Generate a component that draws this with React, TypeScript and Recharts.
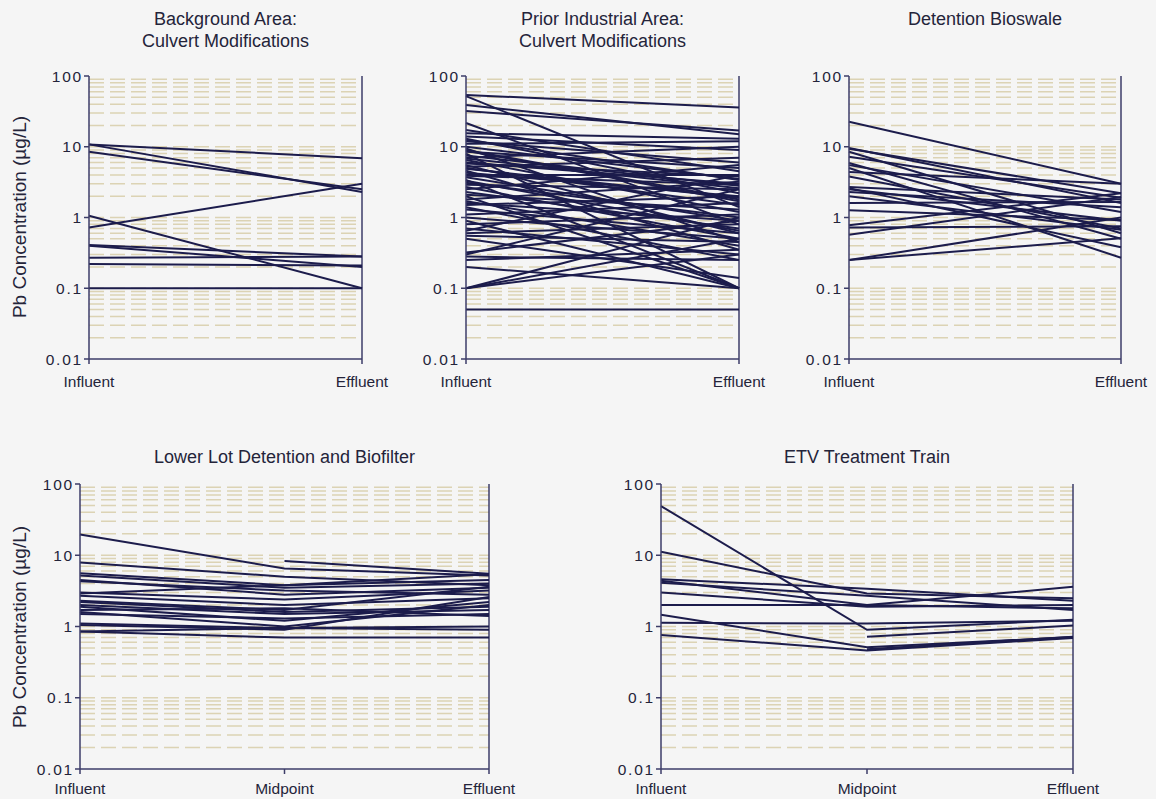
import React from 'react';
import { LineChart, Line, XAxis, YAxis, CartesianGrid, ReferenceLine } from 'recharts';

// y axis (log) ticks shared by all five panels
const yTicks = [0.01, 0.1, 1, 10, 100];

const twoStages = ['Influent', 'Effluent'];
const threeStages = ['Influent', 'Midpoint', 'Effluent'];

// Background Area: Culvert Modifications
const bgInfluent = [10.8, 10.8, 8.5, 0.72, 1.06, 0.41, 0.4, 0.27, 0.22, 0.1];
const bgEffluent = [6.9, 2.3, 2.5, 3.0, 0.1, 0.28, 0.2, 0.28, 0.21, 0.1];

// Prior Industrial Area: Culvert Modifications
const piInfluent = [
  54, 52, 39, 32, 21.7, 17.3, 15.5, 14, 13, 12, 11, 10, 9.5, 9, 8.5, 8, 7.5, 7, 6.5, 6,
  5.5, 5.2, 5, 4.6, 4.3, 4, 3.7, 3.4, 3.1, 2.9, 2.7, 2.5, 2.3, 2.1, 2, 1.8, 1.7, 1.6, 1.5, 1.4,
  1.3, 1.1, 1.0, 0.9, 0.8, 0.7, 0.65, 0.6, 0.55, 0.5, 0.32, 0.3, 0.28, 0.25, 0.2, 0.1, 0.1, 0.1, 0.05,
  6.8, 5.8, 4.9, 3.9, 12.5, 8.8, 3.3,
];
const piEffluent = [
  36, 1.4, 15, 17, 0.8, 4.5, 13, 9, 2.2, 6, 12, 3.5, 0.45, 1.8, 5, 0.1, 2.8, 10, 1.2, 3,
  0.6, 7, 1.5, 0.35, 2, 4, 0.9, 0.1, 1, 2.5, 0.5, 5.5, 0.7, 1.3, 0.1, 3.2, 0.4, 0.9, 2, 0.25,
  0.6, 1.6, 0.5, 0.1, 1.1, 0.3, 4, 0.8, 0.45, 0.14, 0.9, 2.5, 0.25, 0.35, 0.1, 1.0, 0.5, 0.3, 0.05,
  2.6, 3.8, 1.9, 2.9, 3.4, 1.7, 0.65,
];

// Detention Bioswale
const dbInfluent = [
  22.6, 9.6, 9.4, 8.5, 7.2, 5.9, 5.5, 5.0, 4.4, 3.8, 2.7, 2.6, 2.5, 2.3, 2.0, 1.6, 1.27,
  0.78, 0.72, 0.57, 0.25, 0.25,
];
const dbEffluent = [
  3.0, 1.6, 2.2, 0.6, 1.9, 0.5, 1.2, 0.27, 3.0, 0.7, 1.8, 0.38, 0.9, 1.4, 0.67, 1.66, 0.92,
  2.2, 0.75, 1.95, 1.0, 0.51,
];

// Lower Lot Detention and Biofilter
const llInfluent = [19.5, 7.9, null, 5.6, 5.2, 4.5, 4.3, 3.0, 2.9, 2.7, 2.3, 2.2, 2.0, 1.9, 1.7, 1.6, 1.5, 1.1, 1.05, 0.85, 0.85];
const llMidpoint = [6.5, 5.0, 8.3, 3.8, 3.5, 2.8, 3.2, 2.4, 3.8, 2.0, 1.7, 1.6, 1.5, 1.2, 1.8, 1.0, 1.3, 0.95, 0.9, 0.7, 0.95];
const llEffluent = [5.2, 3.8, 5.5, 5.4, 4.0, 3.5, 2.8, 3.2, 4.5, 2.5, 3.6, 1.9, 1.7, 2.2, 1.4, 2.0, 1.5, 1.0, 2.6, 0.7, 0.9];

// ETV Treatment Train
const etvInfluent = [49, 11.2, 4.6, 4.4, 4.1, 3.0, 2.0, 1.13, 1.46, 0.76, null, null];
const etvMidpoint = [0.9, 2.9, 3.4, 2.0, 2.7, 1.9, 2.0, 1.1, 0.51, 0.46, 0.72, 0.48];
const etvEffluent = [1.24, 2.5, 2.3, 3.6, 1.7, 2.0, 1.8, 1.2, 0.71, 0.69, 1.03, 0.72];

// dashed minor gridlines: 2..9 (and the decade) inside every decade
const gridValues: number[] = [];
[0.01, 0.1, 1, 10].forEach((d) => {
  for (let m = 1; m <= 9; m++) {
    if (d === 0.01 && m === 1) continue;
    gridValues.push(+(d * m).toPrecision(3));
  }
});

const LINE = '#1c1c4c';
const AXIS = '#3d3d68';
const TEXT = '#24243a';
const FONT = '"Liberation Sans", Arial, sans-serif';

const YW = 50; // y axis width
const MT = 12;
const MR = 34;
const XH = 34;

interface PanelProps {
  title: string[];
  stages: string[];
  values: (number | null)[][];
  left: number; // plot area left
  top: number; // plot area top
  width: number; // plot area width
  height: number; // plot area height
  titleTop: number;
  xGap: number;
}

const Panel: React.FC<PanelProps> = ({ title, stages, values, left, top, width, height, titleTop, xGap }) => {
  const rows = stages.map((_, i) => {
    const row: Record<string, number | null> = { x: i };
    values[i].forEach((v, k) => {
      row['s' + k] = v;
    });
    return row;
  });
  const last = stages.length - 1;

  return (
    <>
      <div
        style={{
          position: 'absolute',
          left,
          width,
          top: titleTop,
          textAlign: 'center',
          fontSize: 18,
          lineHeight: '22px',
          color: TEXT,
        }}
      >
        {title.map((t) => (
          <div key={t}>{t}</div>
        ))}
      </div>
      <div style={{ position: 'absolute', left: left - YW, top: top - MT }}>
        <LineChart
          width={YW + width + MR}
          height={MT + height + XH}
          data={rows}
          margin={{ top: MT, right: MR, bottom: 0, left: 0 }}
        >
          <CartesianGrid
            horizontal
            vertical={false}
            horizontalValues={gridValues}
            stroke="#dcd3b4"
            strokeWidth={1.5}
            strokeDasharray="15 6"
          />
          <XAxis
            type="number"
            dataKey="x"
            domain={[0, last]}
            ticks={stages.map((_, i) => i)}
            interval={0}
            tickFormatter={(i: number) => stages[i]}
            height={XH}
            stroke={AXIS}
            strokeWidth={1.5}
            tickSize={5}
            tickMargin={xGap}
            tick={{ fontSize: 15.5, fill: TEXT }}
          />
          <YAxis
            type="number"
            scale="log"
            domain={[0.01, 100]}
            ticks={yTicks}
            interval={0}
            allowDataOverflow
            tickFormatter={(v: number) => String(v)}
            width={YW}
            stroke={AXIS}
            strokeWidth={1.5}
            tickSize={5}
            tickMargin={1}
            tick={{ fontSize: 15.5, fill: TEXT, letterSpacing: 1.8 }}
          />
          <ReferenceLine x={last} stroke={AXIS} strokeWidth={1.5} />
          {values[0].map((_, k) => (
            <Line
              key={k}
              dataKey={'s' + k}
              stroke={LINE}
              strokeWidth={2}
              dot={false}
              activeDot={false}
              isAnimationActive={false}
            />
          ))}
        </LineChart>
      </div>
    </>
  );
};

const YLabel: React.FC<{ cy: number }> = ({ cy }) => (
  <div
    style={{
      position: 'absolute',
      left: 20,
      top: cy,
      transform: 'translate(-50%, -50%) rotate(-90deg)',
      whiteSpace: 'nowrap',
      fontSize: 19,
      color: TEXT,
    }}
  >
    Pb Concentration (µg/L)
  </div>
);

export default function App() {
  return (
    <div
      style={{
        position: 'absolute',
        left: 0,
        top: 0,
        width: 1156,
        height: 799,
        overflow: 'hidden',
        background: '#f5f5f5',
        fontFamily: FONT,
      }}
    >
      <YLabel cy={217} />
      <YLabel cy={627} />
      <Panel
        title={['Background Area:', 'Culvert Modifications']}
        stages={twoStages}
        values={[bgInfluent, bgEffluent]}
        left={89}
        top={76}
        width={273}
        height={283}
        titleTop={8}
        xGap={12}
      />
      <Panel
        title={['Prior Industrial Area:', 'Culvert Modifications']}
        stages={twoStages}
        values={[piInfluent, piEffluent]}
        left={466}
        top={76}
        width={273}
        height={283}
        titleTop={8}
        xGap={12}
      />
      <Panel
        title={['Detention Bioswale']}
        stages={twoStages}
        values={[dbInfluent, dbEffluent]}
        left={849}
        top={76}
        width={272}
        height={283}
        titleTop={8}
        xGap={12}
      />
      <Panel
        title={['Lower Lot Detention and Biofilter']}
        stages={threeStages}
        values={[llInfluent, llMidpoint, llEffluent]}
        left={80}
        top={484}
        width={409}
        height={285}
        titleTop={446}
        xGap={9}
      />
      <Panel
        title={['ETV Treatment Train']}
        stages={threeStages}
        values={[etvInfluent, etvMidpoint, etvEffluent]}
        left={661}
        top={484}
        width={412}
        height={285}
        titleTop={446}
        xGap={9}
      />
    </div>
  );
}
